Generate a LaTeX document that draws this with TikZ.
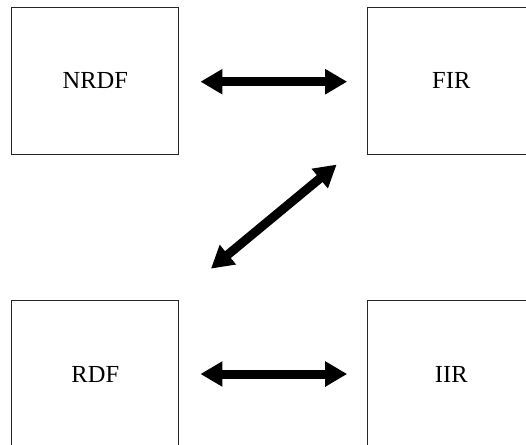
\documentclass[tikz,border=0pt]{standalone}
\usepackage{fontspec}
\setmainfont{Liberation Serif}
\usetikzlibrary{arrows.meta}
\begin{document}
\begin{tikzpicture}[x=1pt,y=-1pt,
  block/.style={draw=black!85, line width=1pt, fill=white,
    minimum width=167.3pt, minimum height=146.7pt, inner sep=0pt,
    font=\fontsize{24.5}{28}\selectfont},
  fatarrow/.style={line width=9pt,
    {Triangle[length=22pt,width=24pt]}-{Triangle[length=22pt,width=24pt]}}]
  \clip (0,0) rectangle (526,444);
  % four filter blocks
  \node[block] (nrdf) at (95.3,80.7) {NRDF};
  \node[block] (fir)  at (451.3,80.7) {FIR};
  \node[block] (rdf)  at (95.3,374) {RDF};
  \node[block] (iir)  at (451.3,374) {IIR};
  % two-way links
  \draw[fatarrow, shorten <=21pt, shorten >=20pt] ([yshift=-1pt]nrdf.east) -- ([yshift=-1pt]fir.west);
  \draw[fatarrow, shorten <=21pt, shorten >=20pt] (rdf.east) -- (iir.west);
  \draw[fatarrow] ([shift={(31.5,-31.5)}]rdf.north east) -- ([shift={(-30.5,10)}]fir.south west);
\end{tikzpicture}
\end{document}
